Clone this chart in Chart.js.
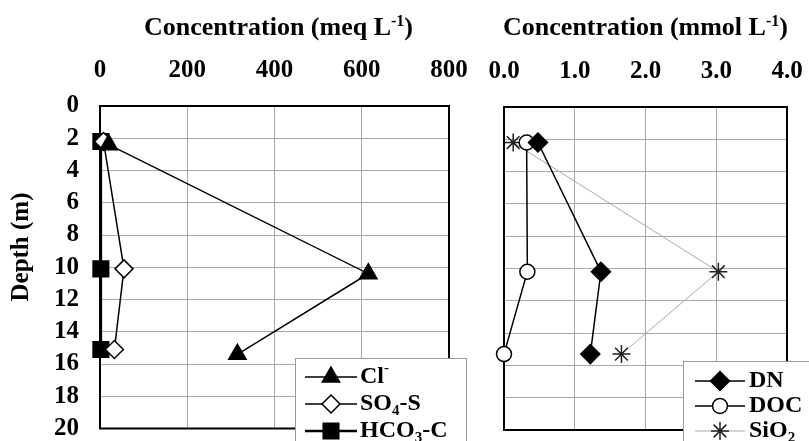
<!DOCTYPE html>
<html>
<head>
<meta charset="utf-8">
<script src="https://cdn.jsdelivr.net/npm/chart.js@4"></script>
<style>
  html, body { margin: 0; padding: 0; background: #fff; }
  #wrap { position: relative; width: 809px; height: 441px; overflow: hidden; }
  #c1 { position: absolute; left: 0; top: 0; }
  #c2 { position: absolute; left: 477px; top: 0; }
</style>
</head>
<body>
<div id="wrap">
  <canvas id="c1" width="477" height="441"></canvas>
  <canvas id="c2" width="332" height="441"></canvas>
</div>
<script>
const SERIF = "'Liberation Serif', 'Times New Roman', serif";
const GRID = '#a8a8a8';

// left panel (meq L-1)
const clDepth = [2.4, 10.4, 15.4];
const clMeq = [20, 615, 315];
const ionDepth = [2.2, 10.1, 15.1];
const so4Meq = [8, 55, 33];
const hco3Meq = [2, 2, 2];

// right panel (mmol L-1)
const nutDepth = [2.2, 10.2, 15.3];
const dnMmol = [0.48, 1.37, 1.22];
const docMmol = [0.32, 0.33, 0.0];
const sio2Mmol = [0.13, 3.03, 1.66];

// tick labels
const depthTicks = ['0', '2', '4', '6', '8', '10', '12', '14', '16', '18', '20'];
const meqTicks = ['0', '200', '400', '600', '800'];
const mmolTicks = ['0.0', '1.0', '2.0', '3.0', '4.0'];

// texts, as [text, 'sup' | 'sub'] pieces
const leftTitle = [['Concentration (meq L'], ['-1', 'sup'], [')']];
const rightTitle = [['Concentration (mmol L'], ['-1', 'sup'], [')']];
const depthTitle = 'Depth (m)';
const leftNames = [
  [['Cl'], ['-', 'sup']],
  [['SO'], ['4', 'sub'], ['-S']],
  [['HCO'], ['3', 'sub'], ['-C']]
];
const rightNames = [
  [['DN']],
  [['DOC']],
  [['SiO'], ['2', 'sub']]
];

const pts = (xs, ys) => xs.map((x, i) => ({ x, y: ys[i] }));
const labelFor = (list) => (v) => list.find(t => Number(t) === v) ?? '';

function series(label, xs, ys, st) {
  return Object.assign({
    label, data: pts(xs, ys), showLine: true, tension: 0, clip: false,
    borderColor: '#000', borderWidth: 1.5,
    pointBorderColor: '#000', pointBorderWidth: 1.5
  }, st);
}

function font(size) {
  return { family: SERIF, size, weight: 'bold' };
}

function drawRich(ctx, segs, x, y, size, align) {
  const pieces = segs.map(([t, kind]) => {
    const s = kind ? Math.round(size * 0.62) : size;
    ctx.font = `bold ${s}px ${SERIF}`;
    const dy = kind === 'sup' ? -size * 0.36 : kind === 'sub' ? size * 0.28 : 0;
    return { t, s, dy, w: ctx.measureText(t).width };
  });
  const total = pieces.reduce((a, p) => a + p.w, 0);
  let cx = align === 'center' ? x - total / 2 : x;
  ctx.textAlign = 'left';
  for (const p of pieces) {
    ctx.font = `bold ${p.s}px ${SERIF}`;
    ctx.fillText(p.t, cx, y + p.dy);
    cx += p.w;
  }
}

const decor = {
  id: 'decor',
  beforeDatasetsDraw(chart) {
    const { ctx, chartArea: a } = chart;
    ctx.save();
    ctx.strokeStyle = '#000';
    ctx.lineWidth = 2;
    ctx.strokeRect(a.left, a.top, a.right - a.left, a.bottom - a.top);
    ctx.restore();
  },
  afterDraw(chart, args, o) {
    const { ctx, chartArea: a } = chart;
    ctx.save();
    ctx.fillStyle = '#000';
    ctx.textBaseline = 'alphabetic';
    drawRich(ctx, o.title, (a.left + a.right) / 2 + o.titleShift, o.titleY, 26, 'center');

    if (o.yTitle) {
      ctx.save();
      ctx.translate(o.yTitleX, o.yTitleY);
      ctx.rotate(-Math.PI / 2);
      ctx.font = `bold 25px ${SERIF}`;
      ctx.textAlign = 'center';
      ctx.textBaseline = 'middle';
      ctx.fillText(o.yTitle, 0, 0);
      ctx.restore();
    }

    const L = o.legend;
    ctx.fillStyle = '#fff';
    ctx.fillRect(L.x, L.y, L.w, L.h);
    ctx.strokeStyle = '#9a9a9a';
    ctx.lineWidth = 1;
    ctx.strokeRect(L.x + 0.5, L.y + 0.5, L.w, L.h);
    ctx.textBaseline = 'middle';
    chart.data.datasets.forEach((ds, i) => {
      const y = L.rows[i];
      ctx.strokeStyle = ds.borderColor;
      ctx.lineWidth = ds.borderWidth;
      ctx.beginPath();
      ctx.moveTo(L.x0, y);
      ctx.lineTo(L.x1, y);
      ctx.stroke();
      ctx.fillStyle = ds.pointBackgroundColor || '#000';
      ctx.strokeStyle = ds.pointBorderColor;
      ctx.lineWidth = ds.pointBorderWidth;
      Chart.helpers.drawPoint(ctx, {
        pointStyle: ds.pointStyle, radius: ds.pointRadius, rotation: 0, borderWidth: ds.pointBorderWidth
      }, (L.x0 + L.x1) / 2, y);
      ctx.fillStyle = '#000';
      drawRich(ctx, o.names[i], L.tx, y, 24, 'left');
    });
    ctx.restore();
  }
};

function panel(id, datasets, x, y, pad, deco) {
  return new Chart(document.getElementById(id), {
    type: 'scatter',
    data: { datasets },
    plugins: [decor],
    options: {
      responsive: false,
      animation: false,
      events: [],
      layout: { padding: pad },
      plugins: { legend: { display: false }, tooltip: { enabled: false }, decor: deco },
      scales: {
        x: Object.assign({
          type: 'linear', position: 'top',
          grid: { color: GRID, lineWidth: 1, drawTicks: false },
          border: { display: false },
          afterFit: s => { s.height = deco.axisTop; s.paddingLeft = 0; s.paddingRight = 0; }
        }, x),
        y: Object.assign({
          type: 'linear', reverse: true, min: 0, max: 20,
          grid: { color: GRID, lineWidth: 1, drawTicks: false },
          border: { display: false },
          afterFit: s => { s.width = deco.axisLeft; s.paddingTop = 0; s.paddingBottom = 0; }
        }, y)
      }
    }
  });
}

panel('c1', [
  series('Cl-', clMeq, clDepth, { pointStyle: 'triangle', pointRadius: 10, pointBackgroundColor: '#000' }),
  series('SO4-S', so4Meq, ionDepth, { pointStyle: 'rectRot', pointRadius: 9, pointBackgroundColor: '#fff' }),
  series('HCO3-C', hco3Meq, ionDepth, { pointStyle: 'rect', pointRadius: 11, pointBackgroundColor: '#000', borderWidth: 2.5 })
], {
  min: 0, max: 800,
  ticks: { stepSize: 200, color: '#000', font: font(25), padding: 20, callback: labelFor(meqTicks) }
}, {
  ticks: { stepSize: 2, autoSkip: false, color: '#000', font: font(25), padding: 21, callback: labelFor(depthTicks) }
}, { top: 0, left: 0, right: 28, bottom: 10 }, {
  axisTop: 106, axisLeft: 100,
  title: leftTitle, titleY: 35, titleShift: 4,
  yTitle: depthTitle, yTitleX: 22, yTitleY: 247,
  names: leftNames,
  legend: { x: 295, y: 358, w: 171, h: 100, rows: [377, 404, 431], x0: 305, x1: 357, tx: 360 }
});

panel('c2', [
  series('DN', dnMmol, nutDepth, { pointStyle: 'rectRot', pointRadius: 9.5, pointBackgroundColor: '#000' }),
  series('DOC', docMmol, nutDepth, { pointStyle: 'circle', pointRadius: 7.5, pointBackgroundColor: '#fff' }),
  series('SiO2', sio2Mmol, nutDepth, {
    pointStyle: 'star', pointRadius: 9, borderColor: '#a8a8a8', borderWidth: 1,
    pointBorderColor: '#222', pointBorderWidth: 1.5
  })
], {
  min: 0, max: 4,
  ticks: { stepSize: 1, color: '#000', font: font(25), padding: 20, callback: labelFor(mmolTicks) }
}, {
  ticks: { display: false, stepSize: 2, autoSkip: false }
}, { top: 0, left: 0, right: 22, bottom: 5 }, {
  axisTop: 107, axisLeft: 27,
  title: rightTitle, titleY: 35, titleShift: 0,
  names: rightNames,
  legend: { x: 206, y: 361, w: 200, h: 100, rows: [381, 406, 431], x0: 218, x1: 268, tx: 272 }
});
</script>
</body>
</html>
